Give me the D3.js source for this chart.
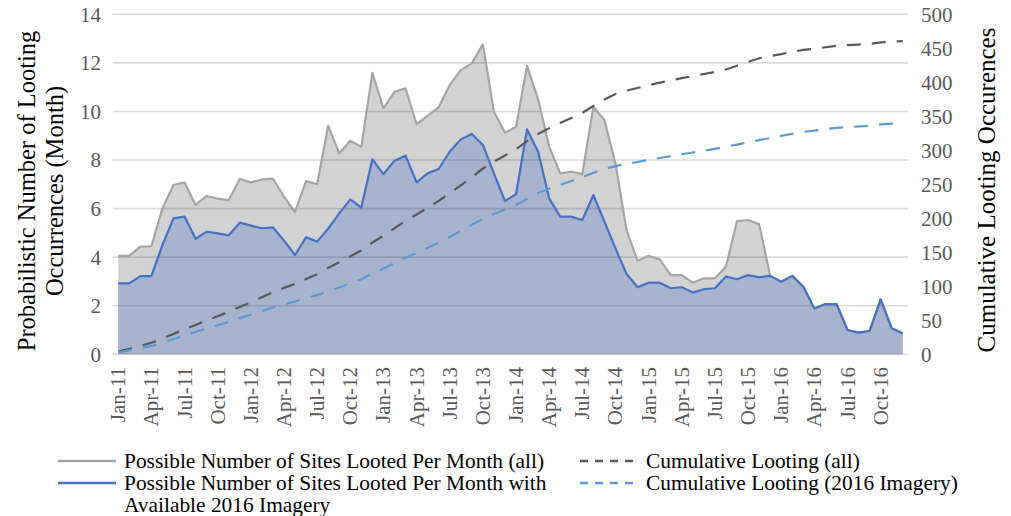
<!DOCTYPE html>
<html><head><meta charset="utf-8">
<script src="https://cdn.jsdelivr.net/npm/d3@7"></script>
<style>
body{margin:0;background:#fff}
svg{display:block}
text{font-family:"Liberation Serif","Times New Roman",serif}
</style>
</head><body><svg id="c" width="1011" height="516"></svg>
<script>
const months = ["Jan-11","Feb-11","Mar-11","Apr-11","May-11","Jun-11","Jul-11","Aug-11","Sep-11","Oct-11","Nov-11","Dec-11",
"Jan-12","Feb-12","Mar-12","Apr-12","May-12","Jun-12","Jul-12","Aug-12","Sep-12","Oct-12","Nov-12","Dec-12",
"Jan-13","Feb-13","Mar-13","Apr-13","May-13","Jun-13","Jul-13","Aug-13","Sep-13","Oct-13","Nov-13","Dec-13",
"Jan-14","Feb-14","Mar-14","Apr-14","May-14","Jun-14","Jul-14","Aug-14","Sep-14","Oct-14","Nov-14","Dec-14",
"Jan-15","Feb-15","Mar-15","Apr-15","May-15","Jun-15","Jul-15","Aug-15","Sep-15","Oct-15","Nov-15","Dec-15",
"Jan-16","Feb-16","Mar-16","Apr-16","May-16","Jun-16","Jul-16","Aug-16","Sep-16","Oct-16","Nov-16","Dec-16"];

const allMonthly = [4.05,4.05,4.43,4.45,6.0,6.97,7.08,6.15,6.52,6.41,6.34,7.22,
7.08,7.2,7.23,6.49,5.86,7.13,7.0,9.41,8.27,8.79,8.55,11.59,
10.13,10.81,10.95,9.48,9.82,10.17,11.09,11.7,11.98,12.76,9.99,9.12,
9.37,11.88,10.5,8.55,7.45,7.52,7.42,10.19,9.65,7.86,5.12,3.85,
4.06,3.91,3.26,3.26,2.95,3.13,3.13,3.61,5.49,5.53,5.36,3.23,
2.99,3.23,2.78,1.89,2.07,2.07,1.0,0.89,0.96,2.26,1.07,0.86];

const imageryMonthly = [2.92,2.92,3.22,3.22,4.5,5.6,5.67,4.76,5.05,4.98,4.9,5.42,
5.3,5.19,5.23,4.68,4.09,4.82,4.64,5.17,5.8,6.38,6.04,8.03,
7.42,7.97,8.18,7.08,7.45,7.63,8.34,8.85,9.07,8.62,7.45,6.31,
6.59,9.26,8.34,6.42,5.67,5.67,5.53,6.56,5.46,4.36,3.31,2.76,
2.95,2.95,2.72,2.76,2.54,2.68,2.72,3.2,3.09,3.26,3.17,3.23,
2.99,3.23,2.78,1.89,2.07,2.07,1.0,0.89,0.96,2.26,1.07,0.86];

const cumulativeAll = [4.1,8.1,12.5,17.0,23.0,30.0,37.0,43.2,49.7,56.1,62.5,69.7,
76.8,84.0,91.2,97.7,103.5,110.7,117.7,127.1,135.3,144.1,152.7,164.3,
174.4,185.2,196.2,205.6,215.5,225.6,236.7,248.4,260.4,273.2,283.2,292.3,
301.6,313.5,324.0,332.6,340.0,347.5,355.0,365.2,374.8,382.7,387.8,391.6,
395.7,399.6,402.9,406.1,409.1,412.2,415.3,418.9,424.4,430.0,435.3,438.6,
441.5,444.8,447.6,449.4,451.5,453.6,454.6,455.5,456.4,458.7,459.8,460.6];

const cumulativeImagery = [2.9,5.8,9.1,12.3,16.8,22.4,28.1,32.8,37.9,42.8,47.7,53.2,
58.5,63.7,68.9,73.6,77.7,82.5,87.1,92.3,98.1,104.5,110.5,118.5,
126.0,133.9,142.1,149.2,156.6,164.3,172.6,181.5,190.5,199.1,206.6,212.9,
219.5,228.8,237.1,243.5,249.2,254.9,260.4,266.9,272.4,276.8,280.1,282.8,
285.8,288.7,291.5,294.2,296.8,299.4,302.2,305.4,308.4,311.7,314.9,318.1,
321.1,324.3,327.1,329.0,331.1,333.1,334.1,335.0,336.0,338.2,339.3,340.2];

const leftTicks = [0,2,4,6,8,10,12,14];
const rightTicks = [0,50,100,150,200,250,300,350,400,450,500];
const xTickLabels = ["Jan-11","Apr-11","Jul-11","Oct-11","Jan-12","Apr-12","Jul-12","Oct-12",
"Jan-13","Apr-13","Jul-13","Oct-13","Jan-14","Apr-14","Jul-14","Oct-14",
"Jan-15","Apr-15","Jul-15","Oct-15","Jan-16","Apr-16","Jul-16","Oct-16"];

const legendLabels = {
  all: ["Possible Number of Sites Looted Per Month (all)"],
  imagery: ["Possible Number of Sites Looted Per Month with", "Available 2016 Imagery"],
  cumAll: ["Cumulative Looting (all)"],
  cumImg: ["Cumulative Looting (2016 Imagery)"]
};

const svg = d3.select("#c");
const plot = {left:112.7, right:908.3, top:14.3, bottom:354.3};

const x = d3.scaleBand().domain(months).range([plot.left, plot.right]).padding(0);
const cx = m => x(m) + x.bandwidth()/2;
const yL = d3.scaleLinear().domain([0,14]).range([plot.bottom, plot.top]);
const yR = d3.scaleLinear().domain([0,500]).range([plot.bottom, plot.top]);

const data = months.map((m,i)=>({m, a:allMonthly[i], b:imageryMonthly[i], ca:cumulativeAll[i], cb:cumulativeImagery[i]}));

// areas
const areaA = d3.area().x(d=>cx(d.m)).y0(yL(0)).y1(d=>yL(d.a));
const areaB = d3.area().x(d=>cx(d.m)).y0(yL(0)).y1(d=>yL(d.b));
svg.append("path").datum(data).attr("d", areaA).attr("fill", "#d2d2d2");
svg.append("path").datum(data).attr("d", areaB).attr("fill", "#a8b4cd");

// gridlines (on top, translucent)
svg.append("g").selectAll("line").data(leftTicks).join("line")
  .attr("x1", plot.left).attr("x2", plot.right)
  .attr("y1", d=>yL(d)).attr("y2", d=>yL(d))
  .attr("stroke", "rgba(0,0,0,0.14)").attr("stroke-width", 1.6);

// lines
const lineA = d3.line().x(d=>cx(d.m)).y(d=>yL(d.a));
const lineB = d3.line().x(d=>cx(d.m)).y(d=>yL(d.b));
svg.append("path").datum(data).attr("d", lineA).attr("fill","none").attr("stroke","#a5a5a5").attr("stroke-width",2.2).attr("stroke-linejoin","round");
svg.append("path").datum(data).attr("d", lineB).attr("fill","none").attr("stroke","#4472c4").attr("stroke-width",2.2).attr("stroke-linejoin","round");

const lineCA = d3.line().x(d=>cx(d.m)).y(d=>yR(d.ca));
const lineCB = d3.line().x(d=>cx(d.m)).y(d=>yR(d.cb));
svg.append("path").datum(data).attr("d", lineCA).attr("fill","none").attr("stroke","#595959").attr("stroke-width",2.2).attr("stroke-dasharray","14,11");
svg.append("path").datum(data).attr("d", lineCB).attr("fill","none").attr("stroke","#5b9bd5").attr("stroke-width",2.2).attr("stroke-dasharray","14,11");

// left axis labels
svg.append("g").selectAll("text").data(leftTicks).join("text")
  .attr("x", 101).attr("y", d=>yL(d)).attr("dy","0.35em")
  .attr("text-anchor","end").attr("font-size",21).attr("fill","#595959").text(d=>d);

// right axis labels
svg.append("g").selectAll("text").data(rightTicks).join("text")
  .attr("x", 921).attr("y", d=>yR(d)).attr("dy","0.35em")
  .attr("text-anchor","start").attr("font-size",21).attr("fill","#595959").text(d=>d);

// x labels
svg.append("g").selectAll("text").data(xTickLabels).join("text")
  .attr("transform", d=>`translate(${cx(d)+7},367) rotate(-90)`)
  .attr("text-anchor","end").attr("font-size",21).attr("fill","#595959").text(d=>d);

// axis titles
svg.append("text").attr("transform","translate(35,191) rotate(-90)")
  .attr("text-anchor","middle").attr("font-size",24.5).attr("fill","#000").text("Probabilistic Number of Looting");
svg.append("text").attr("transform","translate(63,191) rotate(-90)")
  .attr("text-anchor","middle").attr("font-size",24.5).attr("fill","#000").text("Occurrences (Month)");
svg.append("text").attr("transform","translate(995,190) rotate(-90)")
  .attr("text-anchor","middle").attr("font-size",25).attr("fill","#000").text("Cumulative Looting Occurences");

// legend
const leg = svg.append("g");
function legendItem(x0, y0, color, dash, lines){
  leg.append("line").attr("x1",x0).attr("x2",x0+58).attr("y1",y0).attr("y2",y0)
    .attr("stroke",color).attr("stroke-width",2.5).attr("stroke-dasharray",dash||null);
  lines.forEach((t,i)=>{
    leg.append("text").attr("x",x0+66).attr("y",y0+i*22).attr("dy","0.35em")
      .attr("font-size",21.4).attr("fill","#000").text(t);
  });
}
legendItem(58, 461, "#a5a5a5", null, legendLabels.all);
legendItem(58, 483, "#4472c4", null, legendLabels.imagery);
legendItem(580, 461, "#595959", "8,7", legendLabels.cumAll);
legendItem(580, 483, "#5b9bd5", "8,7", legendLabels.cumImg);
</script>
</body></html>
